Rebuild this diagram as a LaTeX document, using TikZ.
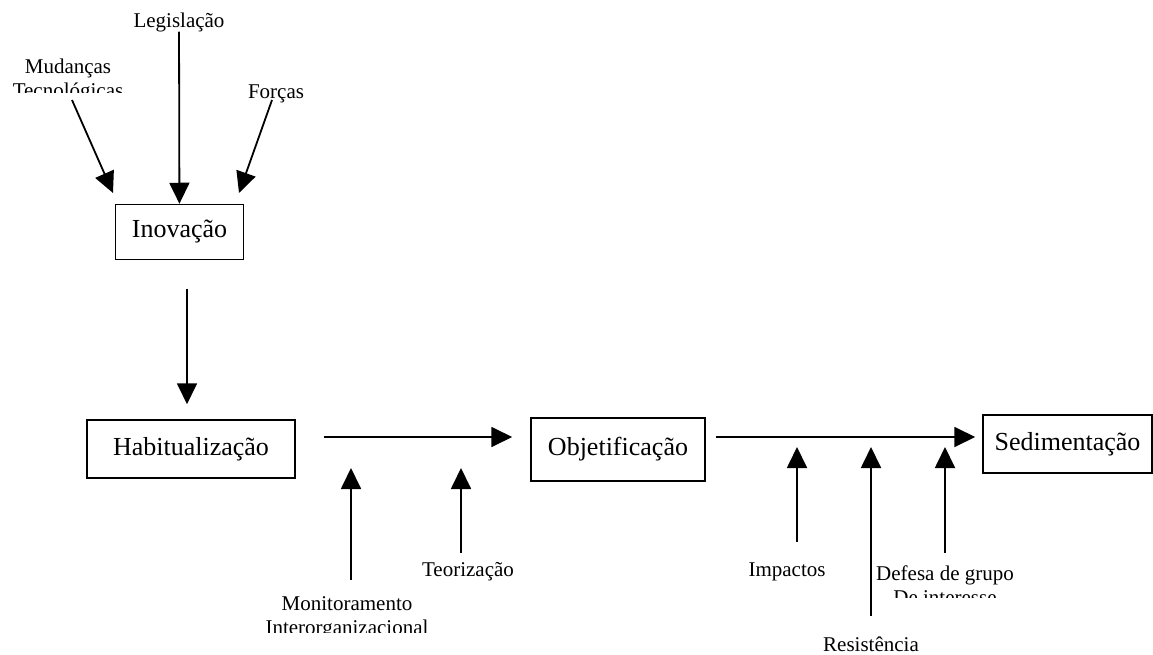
\documentclass[tikz,border=0pt]{standalone}
\usepackage{fontspec}
\setmainfont{Liberation Serif}
\usetikzlibrary{arrows.meta}

\begin{document}
\begin{tikzpicture}[
    x=1pt, y=-1pt,
    stage/.style={
        rectangle,
        draw,
        line width=1.5pt,
        inner sep=0pt,
        font=\fontsize{26}{30}\selectfont
    },
    lbl/.style={
        align=center,
        inner sep=0pt,
        font=\fontsize{21}{24}\selectfont
    },
    arrow/.style={-{Triangle[width=20pt,length=21pt]}, line width=1.8pt}
]
\useasboundingbox (0,0) rectangle (1153,655);

% Stage boxes
\node[stage, minimum width=128pt, minimum height=55pt] (inov) at (179.5,232) {Inovação};
\node[stage, minimum width=208pt, minimum height=58pt] (hab) at (191,449) {Habitualização};
\node[stage, minimum width=174pt, minimum height=63pt] (obj) at (618,449.5) {Objetificação};
\node[stage, minimum width=169pt, minimum height=58pt] (sed) at (1067.5,444) {Sedimentação};

% Labels
\node[lbl] (leg) at (179,22) {Legislação};
\begin{scope}
\clip (0,40) rectangle (160,93);
\node[lbl] (mud) at (68,80) {Mudanças\\Tecnológicas};
\end{scope}
\node[lbl] (forc) at (276,94) {Forças};
\begin{scope}
\clip (250,585) rectangle (450,632);
\node[lbl] (mon) at (347,618) {Monitoramento\\Interorganizacional};
\end{scope}
\node[lbl] (teor) at (468,572) {Teorização};
\node[lbl] (imp) at (787,572) {Impactos};
\node[lbl] (res) at (871,644) {Resistência};
\begin{scope}
\clip (870,555) rectangle (1040,597);
\node[lbl] (def) at (945,585) {Defesa de grupo\\De interesse};
\end{scope}

% Free arrow ends
\coordinate (mud-a) at (72,100);
\coordinate (mud-b) at (113,193);
\coordinate (forc-a) at (272,100);
\coordinate (forc-b) at (239,193);
\coordinate (mon-a) at (351,580);
\coordinate (mon-b) at (351,468);
\coordinate (teor-a) at (461,553);
\coordinate (teor-b) at (461,468);
\coordinate (imp-a) at (797,542);
\coordinate (imp-b) at (797,447);
\coordinate (res-a) at (871,616);
\coordinate (res-b) at (871,447);
\coordinate (def-a) at (945,553);
\coordinate (def-b) at (945,447);

% Arrows into Inovação
\draw[arrow] (leg) -- (inov);
\draw[arrow] (mud-a) -- (mud-b);
\draw[arrow] (forc-a) -- (forc-b);

% Main flow
\draw[arrow, shorten <=28.5pt, shorten >=15pt] ([xshift=7.5pt]inov.south) -- ([xshift=-4pt]hab.north);
\draw[arrow, shorten <=28pt, shorten >=18pt] ([yshift=12pt]hab.east) -- ([yshift=12.5pt]obj.west);
\draw[arrow, shorten <=10pt, shorten >=7pt] ([yshift=12.5pt]obj.east) -- ([yshift=7pt]sed.west);

% Arrows from below
\draw[arrow] (mon-a) -- (mon-b);
\draw[arrow] (teor-a) -- (teor-b);
\draw[arrow] (imp-a) -- (imp-b);
\draw[arrow] (res-a) -- (res-b);
\draw[arrow] (def-a) -- (def-b);

\end{tikzpicture}
\end{document}
